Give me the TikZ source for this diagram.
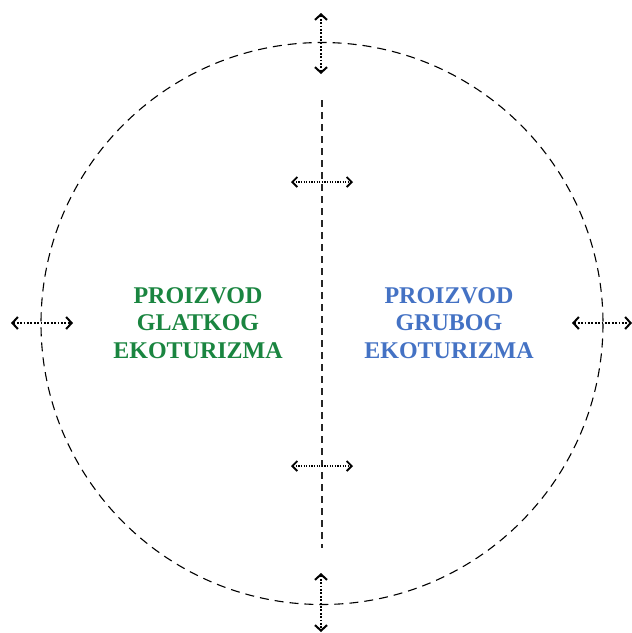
\documentclass[tikz,border=0pt]{standalone}
\usepackage{fontspec}
\setmainfont{Liberation Serif}
\usetikzlibrary{arrows.meta}
\definecolor{smoothgreen}{RGB}{26,133,64}
\definecolor{roughblue}{RGB}{68,114,196}
\tikzset{
  boundary/.style={draw=black, line width=1.1pt, dash pattern=on 9pt off 6pt},
  divider/.style={draw=black!85, line width=1.1pt, dash pattern=on 7pt off 5pt},
  shift arrow/.style={line width=1.8pt, dash pattern=on 1.8pt off 1.6pt,
    {Straight Barb[length=5.5pt,width=12pt,line width=2pt]}-{Straight Barb[length=5.5pt,width=12pt,line width=2pt]}},
  inner arrow/.style={line width=1.4pt, dash pattern=on 1.3pt off 1.3pt,
    {Straight Barb[length=5pt,width=10pt,line width=1.8pt]}-{Straight Barb[length=5pt,width=10pt,line width=1.8pt]}},
  label/.style={font=\fontsize{24}{27.5}\selectfont\bfseries, align=center}
}
\begin{document}
\begin{tikzpicture}[x=1pt,y=-1pt]
\useasboundingbox (0,0) rectangle (632,633);
% outer boundary of the product space
\node (c) at (322,323.5) {};
\draw[boundary] (c.center) circle (281);
% divider between the two products
\coordinate (dtop) at (322,100);
\coordinate (dbot) at (322,548);
\draw[divider] (dtop) -- (dbot);
% arrows showing the shifting boundaries
\coordinate (t1) at (321,13);  \coordinate (t2) at (321,74);
\coordinate (b1) at (321,573); \coordinate (b2) at (321,632);
\coordinate (l1) at (11,323);  \coordinate (l2) at (73,323);
\coordinate (r1) at (572,323); \coordinate (r2) at (632,323);
\coordinate (u1) at (291,182); \coordinate (u2) at (353,182);
\coordinate (m1) at (291,466); \coordinate (m2) at (353,466);
\draw[shift arrow] (t1) -- (t2);
\draw[shift arrow] (b1) -- (b2);
\draw[shift arrow] (l1) -- (l2);
\draw[shift arrow] (r1) -- (r2);
\draw[inner arrow] (u1) -- (u2);
\draw[inner arrow] (m1) -- (m2);
% product labels
\node[label, text=smoothgreen] (smooth) at (198,323) {PROIZVOD\\GLATKOG\\EKOTURIZMA};
\node[label, text=roughblue] (rough) at (449,323) {PROIZVOD\\GRUBOG\\EKOTURIZMA};
\end{tikzpicture}
\end{document}
